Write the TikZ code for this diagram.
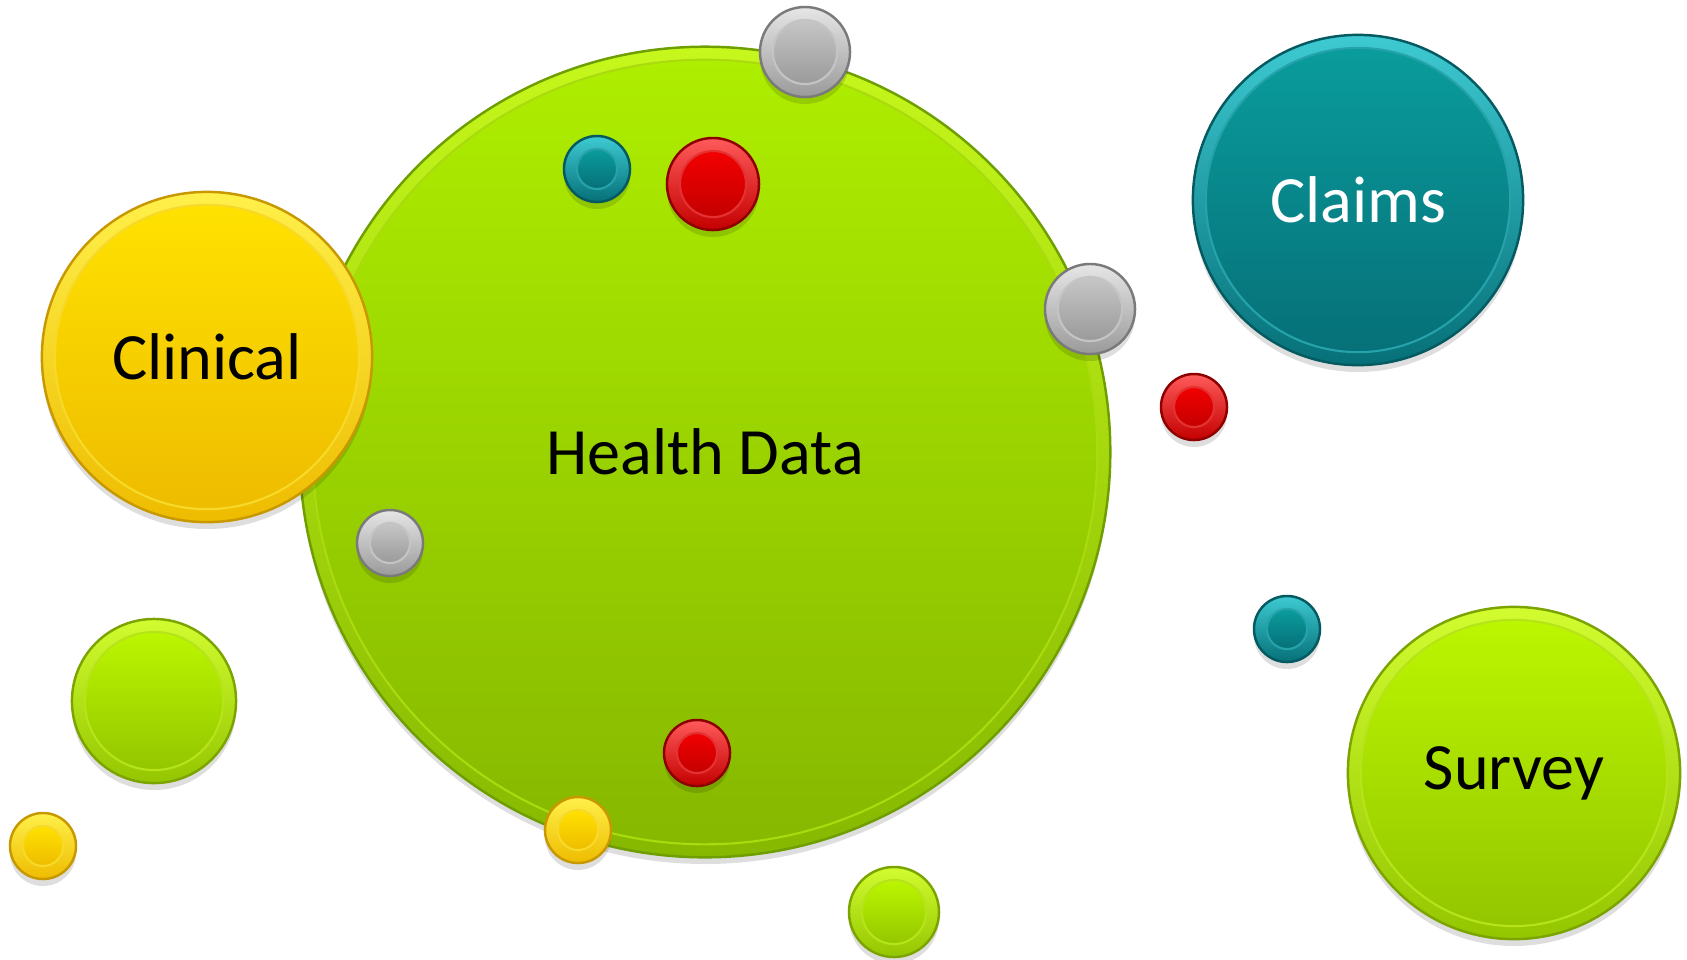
\documentclass[tikz,border=0pt]{standalone}
\usepackage{fontspec}
\setmainfont{Carlito}
\usetikzlibrary{calc}
% colour families: top, bottom, rim, edge
\definecolor{grasstop}{HTML}{AEEE00}
\definecolor{grassbot}{HTML}{86B800}
\definecolor{grassrim}{HTML}{C6F81C}
\definecolor{grassedge}{HTML}{6E9E00}
\definecolor{limetop}{HTML}{BCF600}
\definecolor{limebot}{HTML}{94C600}
\definecolor{limerim}{HTML}{D2FC30}
\definecolor{limeedge}{HTML}{7CA400}
\definecolor{goldtop}{HTML}{FFE200}
\definecolor{goldbot}{HTML}{EEBC00}
\definecolor{goldrim}{HTML}{FFF04A}
\definecolor{goldedge}{HTML}{C89800}
\definecolor{tealtop}{HTML}{0A9C9C}
\definecolor{tealbot}{HTML}{067078}
\definecolor{tealrim}{HTML}{3ECAD2}
\definecolor{tealedge}{HTML}{045A60}
\definecolor{redtop}{HTML}{F20000}
\definecolor{redbot}{HTML}{C40000}
\definecolor{redrim}{HTML}{FF5A5A}
\definecolor{rededge}{HTML}{8E0000}
\definecolor{greytop}{HTML}{C6C6C6}
\definecolor{greybot}{HTML}{9A9A9A}
\definecolor{greyrim}{HTML}{E6E6E6}
\definecolor{greyedge}{HTML}{7A7A7A}
\tikzset{
  disc/.style       = {circle, inner sep=0pt, line width=0.7pt},
  face/.style       = {circle, inner sep=0pt, line width=0.6pt,
                       font=\fontsize{18.8}{22}\selectfont},
  dropshade/.style  = {fill=black, opacity=0.13}
}
\newcommand{\DrawBubble}[5][]{%
  % soft shadow under the disc
  \fill[dropshade] ($#3+(0,7)$) circle (#4);
  % outer disc, bright rim on top
  \node[disc, minimum size=#4*0.02cm, top color=#5rim, bottom color=#5bot,
        draw=#5edge] (#2) at #3 {};
  % inner face carrying the label
  \node[face, minimum size=(#4-13)*0.02cm, top color=#5top, bottom color=#5bot,
        draw=#5rim!55!#5bot] (#2face) at (#2) {#1};
}

\begin{document}
\begin{tikzpicture}[x=0.01cm, y=-0.01cm]
  \useasboundingbox (0,0) rectangle (1687,959);

  % main bubble
  \DrawBubble[Health Data]{health}{(705,452)}{405}{grass}

  % the three data sources
  \DrawBubble[Clinical]{clinical}{(207,357)}{165}{gold}
  \DrawBubble[\color{white}Claims]{claims}{(1358,200)}{165}{teal}
  \DrawBubble[Survey]{survey}{(1514,773)}{166}{lime}

  % loose beads
  \DrawBubble{limeA}{(154,701)}{82}{lime}
  \DrawBubble{goldA}{(43,846)}{33}{gold}
  \DrawBubble{greyA}{(805,52)}{45}{grey}
  \DrawBubble{tealA}{(597,169)}{33}{teal}
  \DrawBubble{redA}{(713,184)}{46}{red}
  \DrawBubble{greyB}{(1090,309)}{45}{grey}
  \DrawBubble{redB}{(1194,407)}{33}{red}
  \DrawBubble{greyC}{(390,543)}{33}{grey}
  \DrawBubble{tealB}{(1287,629)}{33}{teal}
  \DrawBubble{redC}{(697,753)}{33}{red}
  \DrawBubble{goldB}{(578,830)}{33}{gold}
  \DrawBubble{limeB}{(894,912)}{45}{lime}
\end{tikzpicture}
\end{document}
